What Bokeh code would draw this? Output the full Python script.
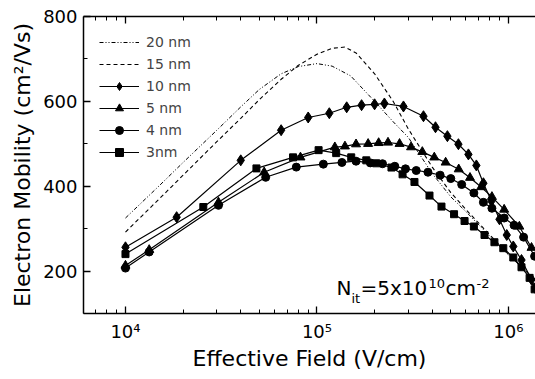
from bokeh.plotting import figure
from bokeh.models import Range1d, FixedTicker, LogAxis, Legend, LegendItem, Label
from bokeh.embed import file_html
from bokeh.resources import INLINE

# Effective field (V/cm) and electron mobility (cm^2/Vs) for each body thickness
field_20nm = [1.0e4, 1.5e4, 2.0e4, 3.0e4, 4.0e4, 5.0e4, 6.5e4, 8.0e4, 1.0e5, 1.2e5, 1.5e5,
              2.0e5, 2.5e5, 3.0e5, 4.0e5, 5.0e5, 6.0e5, 8.0e5, 1.0e6, 1.2e6, 1.38e6]
mob_20nm = [325, 401, 456, 532, 587, 628, 665, 682, 689, 683, 660,
            600, 552, 515, 430, 375, 340, 282, 238, 205, 180]

field_15nm = [1.0e4, 1.5e4, 2.0e4, 3.0e4, 4.0e4, 5.0e4, 6.5e4, 8.0e4, 1.0e5, 1.2e5, 1.4e5,
              1.6e5, 2.0e5, 2.5e5, 3.0e5, 4.0e5, 5.0e5, 6.0e5, 8.0e5, 1.0e6, 1.2e6, 1.38e6]
mob_15nm = [292, 370, 426, 505, 560, 604, 652, 685, 711, 725, 728,
            714, 665, 600, 535, 445, 385, 345, 285, 240, 205, 178]

field_10nm = [1.0e4, 1.85e4, 4.0e4, 6.5e4, 9.0e4, 1.16e5, 1.43e5, 1.71e5, 2.0e5, 2.25e5,
              2.83e5, 3.6e5, 4.16e5, 4.8e5, 5.48e5, 6.18e5, 6.8e5, 7.4e5, 8.15e5, 8.98e5,
              9.8e5, 1.06e6, 1.17e6, 1.32e6, 1.38e6]
mob_10nm = [256, 327, 461, 532, 562, 572, 586, 591, 593, 595,
            588, 565, 539, 518, 499, 475, 449, 407, 365, 322,
            285, 258, 226, 180, 160]

field_5nm = [1.0e4, 1.33e4, 3.06e4, 5.3e4, 8.2e4, 1.24e5, 1.4e5, 1.6e5, 1.85e5, 2.1e5, 2.35e5,
             2.7e5, 3.1e5, 3.55e5, 4.1e5, 4.7e5, 5.5e5, 6.3e5, 7.2e5, 8.2e5, 9.5e5, 1.14e6, 1.32e6]
mob_5nm = [213, 250, 362, 433, 468, 492, 494, 499, 500, 502, 503,
           500, 492, 481, 468, 456, 440, 420, 398, 375, 345, 305, 255]

field_4nm = [1.0e4, 1.33e4, 3.06e4, 5.4e4, 7.8e4, 1.08e5, 1.35e5, 1.6e5, 1.9e5, 2.2e5, 2.55e5,
             2.9e5, 3.3e5, 3.8e5, 4.4e5, 5.0e5, 5.7e5, 6.6e5, 7.4e5, 8.2e5, 9.5e5, 1.07e6,
             1.2e6, 1.37e6]
mob_4nm = [207, 245, 355, 421, 445, 452, 456, 459, 455, 453, 447,
           441, 437, 433, 426, 418, 404, 384, 362, 348, 325, 308,
           280, 235]

field_3nm = [1.0e4, 2.55e4, 4.83e4, 7.5e4, 1.02e5, 1.26e5, 1.51e5, 1.81e5, 2.04e5, 2.45e5,
             2.8e5, 3.23e5, 3.87e5, 4.47e5, 5.2e5, 5.9e5, 6.6e5, 7.5e5, 8.45e5, 9.4e5,
             1.06e6, 1.17e6, 1.29e6, 1.37e6]
mob_3nm = [240, 351, 442, 468, 485, 478, 468, 461, 454, 444,
           428, 410, 378, 352, 334, 318, 305, 285, 268, 254,
           232, 209, 184, 157]

x_major_ticks = [1e4, 1e5, 1e6]
x_minor_ticks = [m * 10.0 ** k for k in (3, 4, 5, 6) for m in range(2, 10)]
x_tick_labels = {1e4: "10⁴", 1e5: "10⁵", 1e6: "10⁶"}
y_major_ticks = [200, 400, 600, 800]
y_minor_ticks = [100, 300, 500, 700]

FONT = "DejaVu Sans"

p = figure(width=535, height=379, x_axis_type="log",
           x_range=Range1d(6036, 1.3847e6), y_range=Range1d(100, 800),
           output_backend="svg", toolbar_location=None,
           min_border_left=83, min_border_right=0, min_border_top=16, min_border_bottom=66)
p.outline_line_color = None
p.xgrid.visible = False
p.ygrid.visible = False
p.background_fill_color = "white"
p.border_fill_color = "white"


def style_axis(ax):
    ax.axis_line_width = 1.5
    ax.axis_line_color = "black"
    ax.major_tick_in = 7
    ax.major_tick_out = 0
    ax.minor_tick_in = 4
    ax.minor_tick_out = 0
    ax.major_tick_line_width = 1.3
    ax.minor_tick_line_width = 1.0
    ax.major_tick_line_color = "black"
    ax.minor_tick_line_color = "black"
    ax.major_label_text_font = FONT
    ax.major_label_text_font_size = "18px"
    ax.major_label_text_color = "black"
    ax.axis_label_text_font = FONT
    ax.axis_label_text_font_size = "22px"
    ax.axis_label_text_font_style = "normal"
    ax.axis_label_text_color = "black"


xax = p.xaxis[0]
xax.ticker = FixedTicker(ticks=x_major_ticks, minor_ticks=x_minor_ticks)
xax.major_label_overrides = x_tick_labels
xax.axis_label = "Effective Field (V/cm)"
style_axis(xax)
xax.major_label_standoff = 7
xax.axis_label_standoff = 1

yax = p.yaxis[0]
yax.ticker = FixedTicker(ticks=y_major_ticks, minor_ticks=y_minor_ticks)
yax.axis_label = "Electron Mobility (cm²/Vs)"
style_axis(yax)
yax.major_label_standoff = 6
yax.axis_label_standoff = 5

# Mirror of the field axis along the top edge, ticks only
top = LogAxis(ticker=FixedTicker(ticks=x_major_ticks, minor_ticks=x_minor_ticks))
style_axis(top)
top.major_label_text_font_size = "2px"
top.major_label_text_alpha = 0
top.major_label_standoff = 0
p.add_layout(top, "above")

# Dashed curves without markers
r20 = p.line(field_20nm, mob_20nm, line_color="black", line_width=1.0, line_dash="4 2 1 2 1 2")
r15 = p.line(field_15nm, mob_15nm, line_color="black", line_width=1.1, line_dash="4 3")

# Solid curves with markers
series = [
    ("10 nm", field_10nm, mob_10nm, "diamond", 11),
    ("5 nm", field_5nm, mob_5nm, "triangle", 9),
    ("4 nm", field_4nm, mob_4nm, "circle", 8),
    ("3nm", field_3nm, mob_3nm, "square", 7),
]

items = [LegendItem(label="20 nm", renderers=[r20]),
         LegendItem(label="15 nm", renderers=[r15])]
for name, xs, ys, marker, size in series:
    rl = p.line(xs, ys, line_color="black", line_width=1.2)
    rm = p.scatter(xs, ys, marker=marker, size=size, fill_color="black", line_color="black")
    items.append(LegendItem(label=name, renderers=[rl, rm]))

legend = Legend(items=items, location="top_left", margin=16, padding=0, spacing=2,
                glyph_width=40, glyph_height=20, label_height=20, label_standoff=7,
                label_text_font=FONT, label_text_font_size="14px",
                border_line_color=None, background_fill_alpha=0)
p.add_layout(legend)

# Interface trap density annotation
note_parts = [
    ("N", 1.264e5, 159, "20px"),
    ("it", 1.514e5, 135, "13px"),
    ("=5x10", 1.687e5, 159, "20px"),
    ("10", 3.82e5, 171, "13px"),
    ("cm", 4.69e5, 159, "20px"),
    ("-2", 6.81e5, 171, "13px"),
]
for txt, xpos, ypos, fs in note_parts:
    p.add_layout(Label(x=xpos, y=ypos, text=txt, text_font=FONT, text_font_size=fs,
                       text_align="left", text_baseline="alphabetic", text_color="black"))

open("out.html", "w").write(file_html(p, INLINE))
